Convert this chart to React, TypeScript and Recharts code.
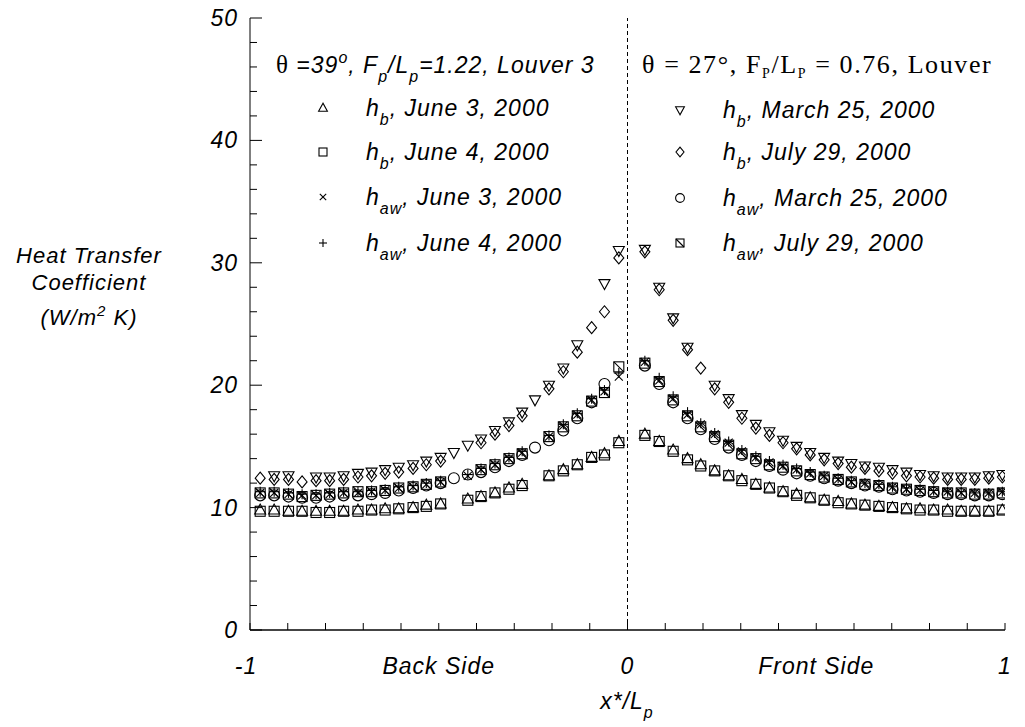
import React from "react";
import { ScatterChart, Scatter, XAxis, YAxis, ReferenceLine } from "recharts";

// x*/Lp positions of the measuring stations
const backX = [-0.973, -0.936, -0.898, -0.862, -0.825, -0.789, -0.752, -0.714, -0.678, -0.642, -0.606, -0.568, -0.533, -0.495, -0.46, -0.423, -0.388, -0.351, -0.314, -0.279, -0.245, -0.208, -0.17, -0.133, -0.095, -0.061, -0.023];
const frontX = [0.046, 0.084, 0.121, 0.159, 0.194, 0.231, 0.268, 0.303, 0.34, 0.376, 0.412, 0.448, 0.484, 0.521, 0.558, 0.593, 0.629, 0.666, 0.702, 0.739, 0.775, 0.811, 0.848, 0.884, 0.92, 0.957, 0.993];

// Louver 3, theta = 39
const hbJune3Back = [9.8, 9.8, 9.7, 9.7, 9.7, 9.7, 9.7, 9.8, 9.8, 9.9, 9.9, 10.0, 10.2, 10.3, null, 10.7, 10.9, 11.2, 11.6, 11.9, null, 12.6, 13.1, 13.5, 14.1, 14.4, 15.4];
const hbJune3Front = [16.0, 15.4, 14.7, 14.0, 13.5, 13.0, 12.6, 12.3, 11.9, 11.6, 11.3, 11.1, 10.8, 10.6, 10.5, 10.3, 10.2, 10.1, 10.0, 9.9, 9.9, 9.8, 9.8, 9.7, 9.7, 9.7, 9.8];
const hbJune4Back = [9.7, 9.7, 9.7, 9.7, 9.6, 9.6, 9.7, 9.7, 9.8, 9.8, 9.9, 10.0, 10.1, 10.3, null, 10.6, 10.9, 11.2, 11.5, 11.8, null, 12.6, 13.0, 13.5, 14.1, 14.3, 15.3];
const hbJune4Front = [15.9, 15.4, 14.6, 13.9, 13.4, 13.0, 12.6, 12.2, 11.9, 11.6, 11.3, 11.0, 10.8, 10.6, 10.4, 10.3, 10.2, 10.1, 10.0, 9.9, 9.8, 9.8, 9.7, 9.7, 9.7, 9.7, 9.8];
const hawJune3Back = [11.2, 11.2, 11.1, 11.0, 11.0, 11.1, 11.2, 11.2, 11.3, 11.4, 11.6, 11.7, 11.9, 12.1, null, 12.6, 13.1, 13.5, 14.0, 14.5, null, 15.8, 16.7, 17.6, 18.8, 19.5, 20.7];
const hawJune3Front = [21.9, 20.4, 18.9, 17.6, 16.8, 16.0, 15.3, 14.6, 14.1, 13.7, 13.4, 13.1, 12.8, 12.6, 12.3, 12.1, 12.0, 11.8, 11.7, 11.5, 11.4, 11.3, 11.3, 11.2, 11.2, 11.2, 11.3];
const hawJune4Back = [11.3, 11.3, 11.2, 11.1, 11.1, 11.2, 11.3, 11.3, 11.4, 11.5, 11.7, 11.8, 12.0, 12.2, null, 12.7, 13.2, 13.6, 14.1, 14.6, null, 15.9, 16.8, 17.7, 18.9, 19.6, 21.0];
const hawJune4Front = [22.0, 20.6, 19.1, 17.8, 16.9, 16.1, 15.4, 14.7, 14.2, 13.8, 13.5, 13.2, 12.9, 12.6, 12.4, 12.2, 12.0, 11.9, 11.7, 11.6, 11.5, 11.4, 11.3, 11.3, 11.2, 11.2, 11.3];

// theta = 27
const hbMar25Back = [null, 12.6, 12.6, null, 12.5, 12.5, 12.6, 12.8, 12.9, 13.1, 13.3, 13.5, 13.8, 14.1, 14.5, 15.1, 15.6, 16.3, 17.0, 17.8, 18.8, 20.0, 21.4, 23.3, null, 28.3, 31.0];
const hbMar25Front = [31.1, 28.0, 25.5, 23.1, null, 20.0, 18.9, 17.6, 16.8, 16.2, 15.5, 15.0, 14.5, 14.1, 13.8, 13.6, 13.4, 13.3, 13.1, 12.9, 12.7, 12.6, 12.5, 12.5, 12.5, 12.6, 12.7];
const hbJul29Back = [12.4, 12.3, 12.3, 12.1, 12.2, 12.2, 12.3, 12.5, 12.6, 12.8, 12.9, 13.2, 13.5, 13.8, null, null, 15.3, 16.0, 16.7, 17.5, null, 19.7, 21.1, 22.7, 24.7, 26.0, 30.4];
const hbJul29Front = [30.9, 27.8, 25.3, 22.9, 21.4, 19.7, 18.6, 17.3, 16.5, 15.9, 15.3, 14.8, 14.3, 13.9, 13.6, 13.3, 13.2, 13.0, 12.8, 12.6, 12.5, 12.4, 12.3, 12.3, 12.3, 12.4, 12.5];
const hawMar25Back = [11.0, 11.0, 10.9, 10.8, 10.8, 10.9, 11.0, 11.0, 11.1, 11.2, 11.4, 11.6, 11.8, 12.0, 12.4, 12.7, 12.9, 13.3, 13.8, 14.3, 14.9, 15.5, 16.3, 17.3, 18.6, 20.1, null];
const hawMar25Front = [21.6, 20.1, 18.6, 17.3, 16.4, 15.6, 14.9, 14.3, 13.8, 13.4, 13.1, 12.8, 12.6, 12.4, 12.2, 12.0, 11.8, 11.7, 11.5, 11.4, 11.3, 11.2, 11.1, 11.1, 11.0, 11.0, 11.1];
const hawJul29Back = [11.2, 11.2, 11.1, 10.9, 11.0, 11.1, 11.2, 11.3, 11.3, 11.4, 11.6, 11.7, 11.9, 12.1, null, null, 13.1, 13.5, 14.0, 14.4, null, 15.8, 16.6, 17.5, 18.7, 19.4, 21.5];
const hawJul29Front = [21.8, 20.3, 18.8, 17.5, 16.6, 15.8, 15.1, 14.4, 14.0, 13.5, 13.3, 13.0, 12.7, 12.5, 12.3, 12.1, 11.9, 11.8, 11.6, 11.5, 11.4, 11.3, 11.2, 11.2, 11.1, 11.1, 11.2];

const xTicks = [-1, -0.9, -0.8, -0.7, -0.6, -0.5, -0.4, -0.3, -0.2, -0.1, 0, 0.1, 0.2, 0.3, 0.4, 0.5, 0.6, 0.7, 0.8, 0.9, 1];
const yTicks = [0, 2, 4, 6, 8, 10, 12, 14, 16, 18, 20, 22, 24, 26, 28, 30, 32, 34, 36, 38, 40, 42, 44, 46, 48, 50];
const xLabels: [number, string][] = [[-1, "-1"], [-0.5, "Back Side"], [0, "0"], [0.5, "Front Side"], [1, "1"]];

const SANS = '"Liberation Sans", Arial, sans-serif';
const SERIF = '"Liberation Serif", "Times New Roman", serif';
const ink = { fill: "none", stroke: "#000", strokeWidth: 1.1 };

const marks: Record<string, (cx: number, cy: number, s?: number) => React.ReactElement> = {
  triUp: (cx, cy, s = 1) => <polygon points={`${cx},${cy - 6 * s} ${cx - 5.5 * s},${cy + 4 * s} ${cx + 5.5 * s},${cy + 4 * s}`} {...ink} />,
  triDown: (cx, cy, s = 1) => <polygon points={`${cx},${cy + 6 * s} ${cx - 5.5 * s},${cy - 4 * s} ${cx + 5.5 * s},${cy - 4 * s}`} {...ink} />,
  square: (cx, cy, s = 1) => <rect x={cx - 5 * s} y={cy - 5 * s} width={10 * s} height={10 * s} {...ink} />,
  diamond: (cx, cy, s = 1) => <polygon points={`${cx},${cy - 6 * s} ${cx + 5 * s},${cy} ${cx},${cy + 6 * s} ${cx - 5 * s},${cy}`} {...ink} />,
  circle: (cx, cy, s = 1) => <circle cx={cx} cy={cy} r={5.5 * s} {...ink} />,
  cross: (cx, cy, s = 1) => (
    <g {...ink}>
      <line x1={cx - 4 * s} y1={cy - 4 * s} x2={cx + 4 * s} y2={cy + 4 * s} />
      <line x1={cx - 4 * s} y1={cy + 4 * s} x2={cx + 4 * s} y2={cy - 4 * s} />
    </g>
  ),
  plus: (cx, cy, s = 1) => (
    <g {...ink}>
      <line x1={cx - 5 * s} y1={cy} x2={cx + 5 * s} y2={cy} />
      <line x1={cx} y1={cy - 5 * s} x2={cx} y2={cy + 5 * s} />
    </g>
  ),
  squareDiag: (cx, cy, s = 1) => (
    <g {...ink}>
      <rect x={cx - 5 * s} y={cy - 5 * s} width={10 * s} height={10 * s} />
      <line x1={cx - 5 * s} y1={cy - 5 * s} x2={cx + 5 * s} y2={cy + 5 * s} />
    </g>
  ),
};

const toPoints = (back: (number | null)[], front: (number | null)[]) =>
  [...backX.map((x, i) => ({ x, y: back[i] })), ...frontX.map((x, i) => ({ x, y: front[i] }))].filter((p) => p.y != null);

const series = [
  { name: "hbJune3", mark: "triUp", data: toPoints(hbJune3Back, hbJune3Front) },
  { name: "hbJune4", mark: "square", data: toPoints(hbJune4Back, hbJune4Front) },
  { name: "hawJune3", mark: "cross", data: toPoints(hawJune3Back, hawJune3Front) },
  { name: "hawJune4", mark: "plus", data: toPoints(hawJune4Back, hawJune4Front) },
  { name: "hbMar25", mark: "triDown", data: toPoints(hbMar25Back, hbMar25Front) },
  { name: "hbJul29", mark: "diamond", data: toPoints(hbJul29Back, hbJul29Front) },
  { name: "hawMar25", mark: "circle", data: toPoints(hawMar25Back, hawMar25Front) },
  { name: "hawJul29", mark: "squareDiag", data: toPoints(hawJul29Back, hawJul29Front) },
];

const tickFont = { fontFamily: SANS, fontStyle: "italic", fontSize: 23, letterSpacing: 1, fill: "#000" } as const;

const LeftTick = (p: any) => {
  const v = p.payload.value;
  const major = v % 10 === 0;
  return (
    <g>
      <line x1={p.x} y1={p.y} x2={p.x + (major ? 12 : 7)} y2={p.y} stroke="#000" />
      {major && <text x={p.x - 12} y={p.y + 8} textAnchor="end" {...tickFont}>{v}</text>}
    </g>
  );
};
const RightTick = (p: any) => {
  const major = p.payload.value % 10 === 0;
  return <line x1={p.x} y1={p.y} x2={p.x - (major ? 12 : 7)} y2={p.y} stroke="#000" />;
};
const BottomTick = (p: any) => {
  const v = p.payload.value;
  const lab = xLabels.find((l) => Math.abs(l[0] - v) < 1e-6);
  return (
    <g>
      <line x1={p.x} y1={p.y} x2={p.x} y2={p.y - 7} stroke="#000" />
      {lab && <text x={p.x - (v === -1 ? 4 : 0)} y={p.y + 44} textAnchor="middle" {...tickFont}>{lab[1]}</text>}
    </g>
  );
};
const TopTick = (p: any) => <line x1={p.x} y1={p.y} x2={p.x} y2={p.y + 7} stroke="#000" />;

const Sub = ({ children, size = 16, top = 9 }: any) => (
  <span style={{ position: "relative", top, fontSize: size }}>{children}</span>
);
const Sup = ({ children, size = 16, top = -10 }: any) => (
  <span style={{ position: "relative", top, fontSize: size }}>{children}</span>
);

const legendText = { fontFamily: SANS, fontStyle: "italic", fontSize: 23, letterSpacing: 1, lineHeight: "26px", whiteSpace: "nowrap" } as const;

const LegendRow = ({ left, top, mark, sub, label }: any) => (
  <div style={{ position: "absolute", left, top: top - 13, height: 26, ...legendText }}>
    <svg width={16} height={16} style={{ position: "absolute", left: -51, top: 5 }}>
      {marks[mark](8, 8, 0.8)}
    </svg>
    h<Sub>{sub}</Sub>, {label}
  </div>
);

// page coordinates: the wrapper cancels the body margin
export default function App() {
  return (
    <div style={{ position: "relative", width: 1017, height: 727, margin: "-8px 0 0 -8px" }}>
      <ScatterChart width={1017} height={722} margin={{ top: 18, right: 12, bottom: 42, left: 190 }}>
        <XAxis type="number" dataKey="x" domain={[-1, 1]} ticks={xTicks} interval={0} height={50}
          tickSize={0} tickMargin={0} tick={BottomTick} axisLine={{ stroke: "#444", strokeWidth: 2 }} allowDataOverflow />
        <XAxis xAxisId="top" orientation="top" type="number" domain={[-1, 1]} ticks={xTicks} interval={0} height={0}
          tickSize={0} tickMargin={0} tick={TopTick} axisLine={{ stroke: "#000" }} allowDataOverflow />
        <YAxis type="number" dataKey="y" domain={[0, 50]} ticks={yTicks} interval={0} width={60}
          tickSize={0} tickMargin={0} tick={LeftTick} axisLine={{ stroke: "#000" }} allowDataOverflow />
        <YAxis yAxisId="right" orientation="right" type="number" domain={[0, 50]} ticks={yTicks} interval={0} width={0}
          tickSize={0} tickMargin={0} tick={RightTick} axisLine={{ stroke: "#000" }} allowDataOverflow />
        <ReferenceLine x={0} stroke="#000" strokeDasharray="4 3" />
        {series.map((s) => (
          <Scatter key={s.name} name={s.name} data={s.data} isAnimationActive={false}
            shape={(p: any) => marks[s.mark](p.cx, p.cy)} />
        ))}
      </ScatterChart>

      {/* left legend block */}
      <div style={{ position: "absolute", left: 276, top: 65 - 13, ...legendText }}>
        <span style={{ fontFamily: SERIF, fontStyle: "normal", fontSize: 25 }}>θ</span> =39<Sup>o</Sup>, F<Sub>p</Sub>/L<Sub>p</Sub>=1.22, Louver 3
      </div>
      <LegendRow left={366} top={108} mark="triUp" sub="b" label="June 3, 2000" />
      <LegendRow left={366} top={152} mark="square" sub="b" label="June 4, 2000" />
      <LegendRow left={366} top={197} mark="cross" sub="aw" label="June 3, 2000" />
      <LegendRow left={366} top={243} mark="plus" sub="aw" label="June 4, 2000" />

      {/* right legend block */}
      <div style={{ position: "absolute", left: 642, top: 65 - 14, fontFamily: SERIF, fontSize: 26, letterSpacing: 1.6, lineHeight: "28px", whiteSpace: "nowrap" }}>
        θ = 27°, F<Sub size={14} top={5}>P</Sub>/L<Sub size={14} top={5}>P</Sub> = 0.76, Louver
      </div>
      <LegendRow left={723} top={110} mark="triDown" sub="b" label="March 25, 2000" />
      <LegendRow left={723} top={152} mark="diamond" sub="b" label="July 29, 2000" />
      <LegendRow left={723} top={198} mark="circle" sub="aw" label="March 25, 2000" />
      <LegendRow left={723} top={243} mark="squareDiag" sub="aw" label="July 29, 2000" />

      {/* y axis title */}
      <div style={{ position: "absolute", left: 4, width: 170, top: 242, textAlign: "center", fontFamily: SANS, fontStyle: "italic", fontSize: 22, letterSpacing: 1, lineHeight: "27px" }}>
        <div>Heat Transfer</div>
        <div>Coefficient</div>
        <div style={{ marginTop: 8 }}>(W/m<Sup size={15} top={-9}>2</Sup> K)</div>
      </div>

      {/* x axis title */}
      <div style={{ position: "absolute", left: 627 - 60, width: 120, top: 688, textAlign: "center", ...legendText }}>
        x*/L<Sub>p</Sub>
      </div>
    </div>
  );
}
